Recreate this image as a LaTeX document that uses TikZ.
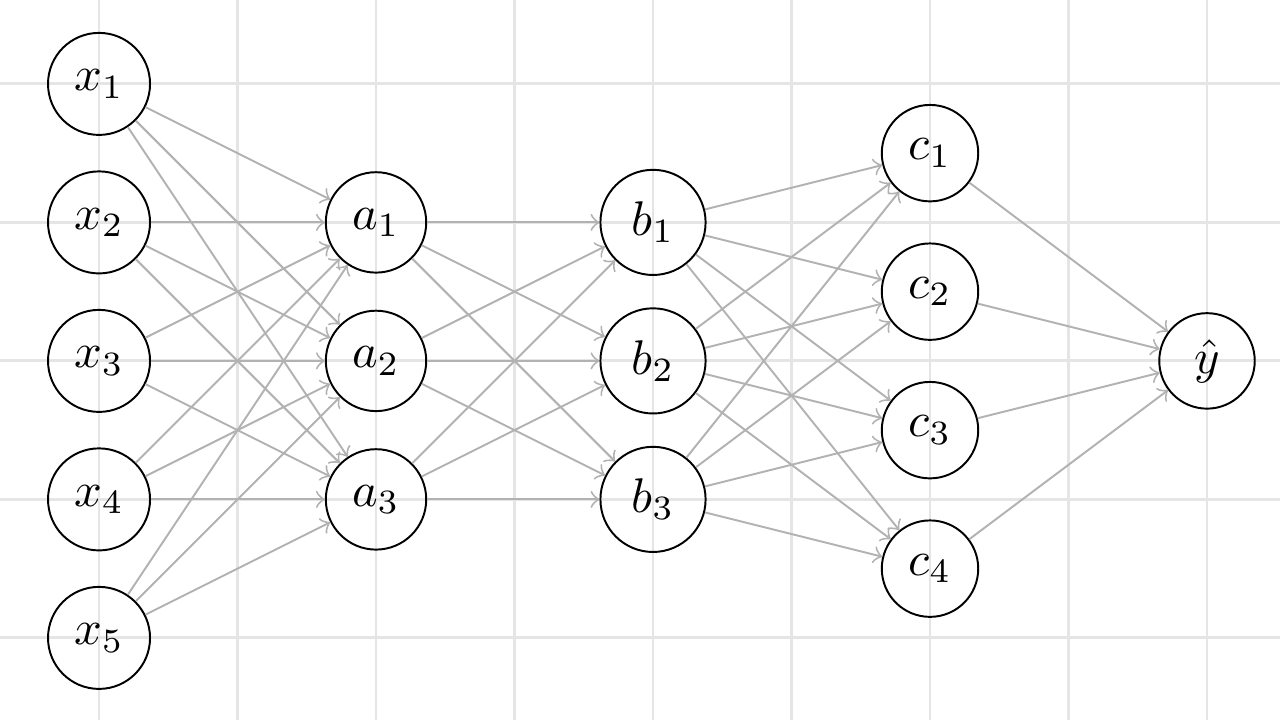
\documentclass[tikz,border=0pt]{standalone}
\begin{document}
\begin{tikzpicture}[
  neuron/.style={circle, draw=black, thin},
  conn/.style={->, draw=black!30, thin},
  gridline/.style={draw=black!10, line width=0.6pt}
]
\useasboundingbox (-0.715,-2.592) rectangle (8.527,2.606);
\draw[gridline] (-1,-3) grid (9,3);
% input layer
\foreach \i in {1,...,5} {
  \node[neuron] (x\i) at (0,3-\i) {$x_{\i}$};
}
\foreach \i in {1,2,3} {
  \node[neuron] (a\i) at (2,2-\i) {$a_{\i}$};
  \node[neuron] (b\i) at (4,2-\i) {$b_{\i}$};
}
\foreach \i in {1,...,4} {
  \node[neuron] (c\i) at (6,2.5-\i) {$c_{\i}$};
}
\node[neuron] (y) at (8,0) {$\hat{y}$};
\foreach \i in {1,...,5} \foreach \j in {1,2,3} \draw[conn] (x\i) -- (a\j);
\foreach \i in {1,2,3} \foreach \j in {1,2,3} \draw[conn] (a\i) -- (b\j);
\foreach \i in {1,2,3} \foreach \j in {1,...,4} \draw[conn] (b\i) -- (c\j);
\foreach \i in {1,...,4} \draw[conn] (c\i) -- (y);
\end{tikzpicture}
\end{document}
